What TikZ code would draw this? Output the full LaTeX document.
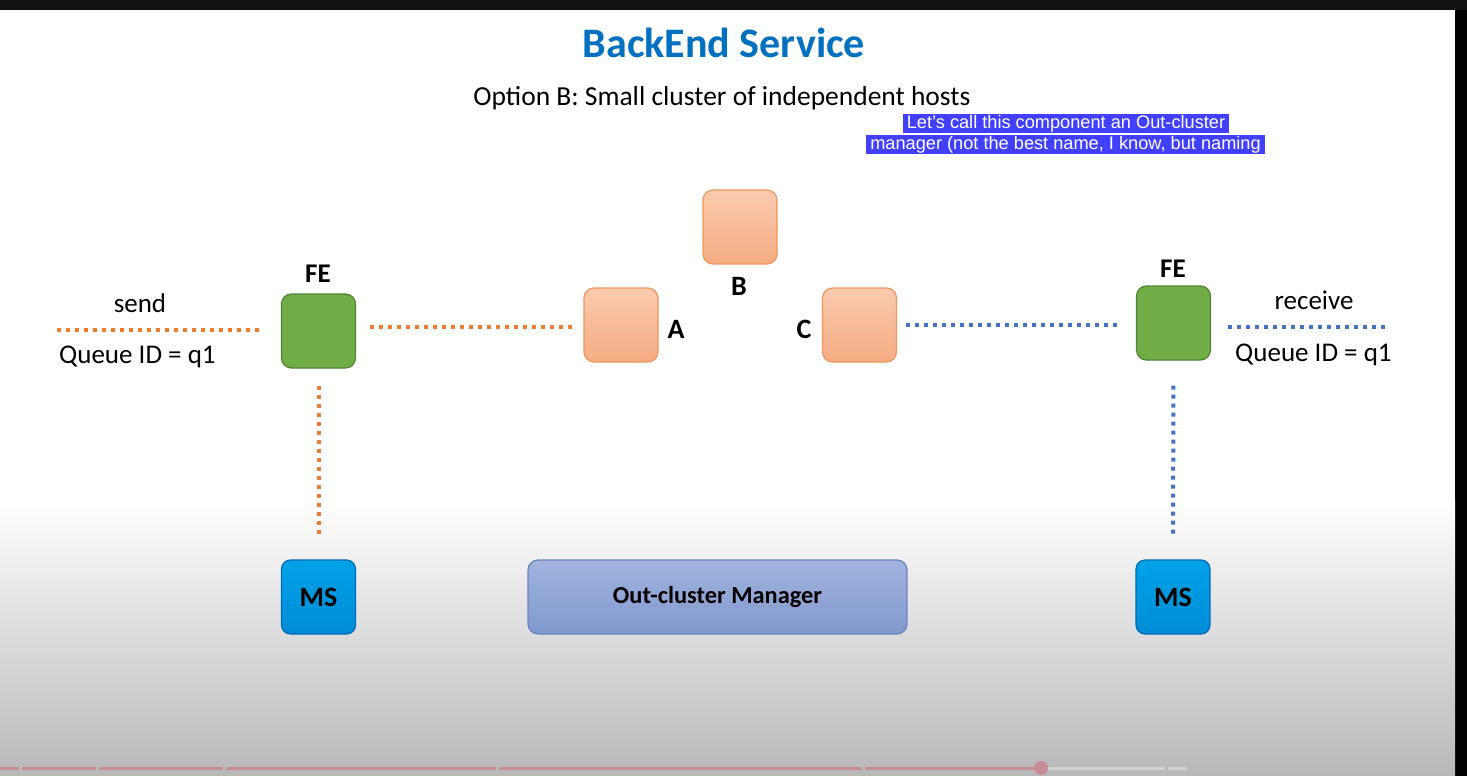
\documentclass[tikz,border=0pt]{standalone}
\usepackage{fontspec}
\setmainfont{Carlito}
\newfontfamily\capfont{Liberation Sans}
\definecolor{titleblue}{RGB}{0,112,192}
\definecolor{feGreen}{RGB}{112,173,71}
\definecolor{feGreenD}{RGB}{84,130,53}
\definecolor{peachT}{RGB}{250,202,174}
\definecolor{peachB}{RGB}{245,172,130}
\definecolor{peachD}{RGB}{237,150,95}
\definecolor{msT}{RGB}{0,162,232}
\definecolor{msB}{RGB}{0,140,214}
\definecolor{msD}{RGB}{0,105,180}
\definecolor{mgrT}{RGB}{162,180,222}
\definecolor{mgrB}{RGB}{128,152,205}
\definecolor{mgrD}{RGB}{108,132,188}
\definecolor{dotOrange}{RGB}{237,125,49}
\definecolor{dotBlue}{RGB}{68,114,196}
\definecolor{capBg}{RGB}{66,64,255}
\definecolor{barPink}{RGB}{200,140,152}
\definecolor{bgGray}{RGB}{184,184,184}
\tikzset{
  febox/.style={draw=feGreenD, fill=feGreen, line width=1.2pt, rounded corners=10pt, minimum width=74pt, minimum height=74pt, inner sep=0pt},
  hostbox/.style={draw=peachD, top color=peachT, bottom color=peachB, line width=1.2pt, rounded corners=10pt, minimum width=74pt, minimum height=74pt, inner sep=0pt},
  msbox/.style={draw=msD, top color=msT, bottom color=msB, line width=1.2pt, rounded corners=9pt, minimum width=74pt, minimum height=74pt, inner sep=0pt, font=\fontsize{28}{32}\selectfont\bfseries},
  mgrbox/.style={draw=mgrD, top color=mgrT, bottom color=mgrB, line width=1.2pt, rounded corners=10pt, minimum width=379pt, minimum height=74pt, inner sep=0pt, font=\fontsize{24.4}{28}\selectfont\bfseries},
  lbl/.style={inner sep=0pt, font=\fontsize{27}{30}\selectfont\bfseries},
  hostlbl/.style={inner sep=0pt, font=\fontsize{28}{32}\selectfont\bfseries},
  plain/.style={inner sep=0pt, font=\fontsize{27}{31}\selectfont},
  odot/.style={draw=dotOrange, line width=4pt, dash pattern=on 4pt off 5pt},
  bdot/.style={draw=dotBlue, line width=4pt, dash pattern=on 4pt off 5pt},
  capline/.style={fill=capBg, text=white, inner xsep=4pt, inner ysep=0pt, text height=14.5pt, text depth=5pt, font=\capfont\fontsize{18.2}{21}\selectfont},
}
\begin{document}
\begin{tikzpicture}[x=1pt,y=-1pt]
\useasboundingbox (0,0) rectangle (1467,776);
% background
\fill[white] (0,0) rectangle (1467,776);
\fill[black!93] (0,0) rectangle (1467,10);
\fill[black] (1455,10) rectangle (1467,776);
\shade[top color=white, bottom color=bgGray] (0,500) rectangle (1455,776);
% progress bar
\foreach \a/\b in {0/19,22/96,99/223,226/496,499/862,865/1040}
  \draw[barPink, line width=3pt] (\a,768) -- (\b,768);
\draw[black!18, line width=3pt] (1040,768) -- (1165,768);
\draw[black!18, line width=3pt] (1168,768) -- (1187,768);
\fill[barPink] (1041,768) circle (7);
% titles
\node[inner sep=0pt, text=titleblue, font=\fontsize{42}{46}\selectfont\bfseries] (title) at (724,43) {BackEnd Service};
\node[inner sep=0pt, font=\fontsize{27.5}{31}\selectfont] (subtitle) at (722,98) {Option B: Small cluster of independent hosts};
% caption
\node[capline] (cap1) at (1066,123.5) {Let’s call this component an Out-cluster};
\node[capline] (cap2) at (1065.5,144.5) {manager (not the best name, I know, but naming};
% hosts
\node[febox] (feL) at (318.5,331) {};
\node[febox] (feR) at (1173.5,323) {};
\node[hostbox] (B) at (740,227) {};
\node[hostbox] (A) at (621,325) {};
\node[hostbox] (C) at (859.5,325) {};
\node[msbox] (msL) at (318.5,597) {MS};
\node[msbox] (msR) at (1173,597) {MS};
\node[mgrbox] (mgr) at (717.5,597) {Out-cluster Manager};
% labels
\node[lbl] (feLl) at (318,274) {FE};
\node[lbl] (feRl) at (1173,269) {FE};
\node[hostlbl] (Al) at (676,329) {A};
\node[hostlbl] (Bl) at (739,286) {B};
\node[hostlbl] (Cl) at (804,329) {C};
\node[plain] (send) at (140,303) {send};
\node[plain, anchor=west] (qL) at (59,357) {Queue ID = q1};
\node[plain] (recv) at (1314,300) {receive};
\node[plain, anchor=west] (qR) at (1235,355) {Queue ID = q1};
% connectors
\coordinate (sendEnd) at (57,330);
\coordinate (recvEnd) at (1388,327);
\draw[odot, shorten >=19pt] (sendEnd) -- ([yshift=1pt]feL.west);
\draw[odot, shorten <=14pt, shorten >=9pt] ([yshift=4pt]feL.east) -- ([yshift=-2pt]A.west);
\draw[odot, shorten <=17pt, shorten >=23pt] (feL.south) -- (msL.north);
\draw[bdot, shorten <=9pt, shorten >=17pt] (C.east) -- ([yshift=-2pt]feR.west);
\draw[bdot, shorten <=17pt] ([yshift=-4pt]feR.east) -- (recvEnd);
\draw[bdot, shorten <=25pt, shorten >=25pt] (feR.south) -- (msR.north);
\end{tikzpicture}
\end{document}
